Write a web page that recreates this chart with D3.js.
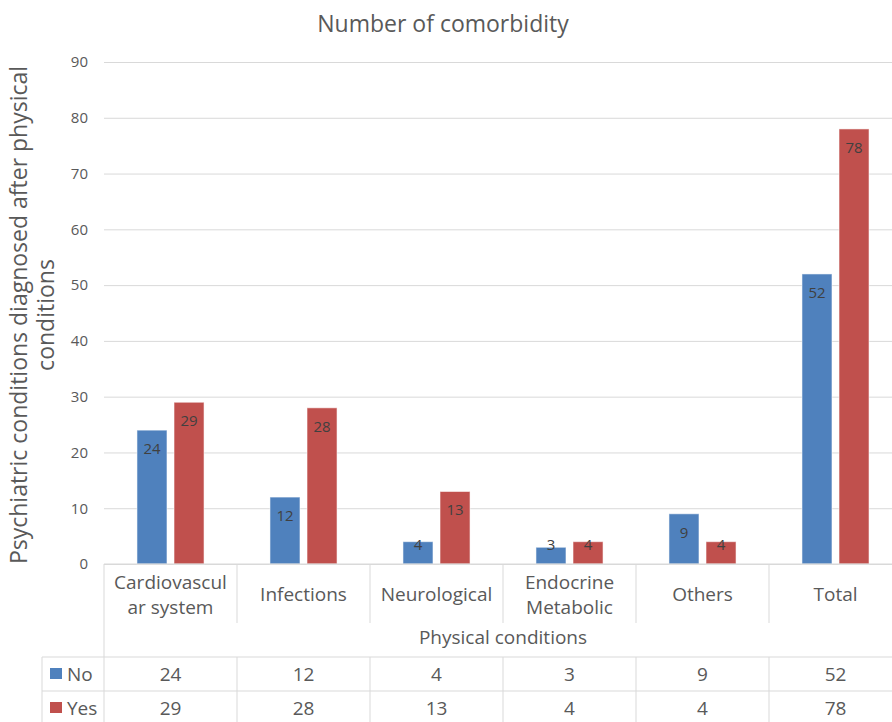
<!DOCTYPE html>
<html>
<head>
<meta charset="utf-8">
<script src="https://cdn.jsdelivr.net/npm/d3@7"></script>
<style>
  html, body { margin: 0; padding: 0; background: #fff; }
  svg { display: block; font-family: "Open Sans", "Noto Sans", sans-serif; }
</style>
</head>
<body>
<svg id="chart" width="892" height="722"></svg>
<script>
// Comorbidity counts by physical condition group
const categories = ["Cardiovascular system", "Infections", "Neurological", "Endocrine Metabolic", "Others", "Total"];
const categoryLines = [["Cardiovascul", "ar system"], ["Infections"], ["Neurological"], ["Endocrine", "Metabolic"], ["Others"], ["Total"]];
const seriesNames = ["No", "Yes"];
const noValues = [24, 12, 4, 3, 9, 52];
const yesValues = [29, 28, 13, 4, 4, 78];
const yTicks = [0, 10, 20, 30, 40, 50, 60, 70, 80, 90];
const colors = { No: "#4f81bd", Yes: "#c0504d" };

const seriesValues = { No: noValues, Yes: yesValues };

const svg = d3.select("#chart");
const W = 892, H = 722;
const textGrey = "#595959";
const lineGrey = "#d9d9d9";
const tableFont = 19;

const plotLeft = 104, plotRight = 902, plotTop = 62, plotBottom = 564;

const x0 = d3.scaleBand().domain(categories).range([plotLeft, plotRight]).padding(0);
const x1 = d3.scaleBand().domain(seriesNames).range([0, x0.bandwidth()])
  .paddingInner(0.19).paddingOuter(0.89);
const y = d3.scaleLinear().domain([0, 90]).range([plotBottom, plotTop]);

// Title
svg.append("text")
  .attr("x", 443).attr("y", 32)
  .attr("text-anchor", "middle")
  .attr("font-size", 23)
  .attr("fill", textGrey)
  .text("Number of comorbidity");

// Gridlines and y tick labels
const yAxis = d3.axisLeft(y).tickValues(yTicks).tickSize(-(W - plotLeft)).tickPadding(16);
const gy = svg.append("g").attr("transform", `translate(${plotLeft},0)`).call(yAxis);
gy.select(".domain").remove();
gy.selectAll(".tick line").attr("stroke", lineGrey).attr("stroke-width", 1);
gy.selectAll(".tick text").attr("fill", textGrey).attr("font-size", 15)
  .attr("font-family", "Open Sans, sans-serif");

// Y axis title (two lines)
const yTitle = svg.append("text")
  .attr("transform", `translate(0,315) rotate(-90)`)
  .attr("text-anchor", "middle")
  .attr("font-size", 23)
  .attr("fill", textGrey);
yTitle.append("tspan").attr("x", 0).attr("y", 27).text("Psychiatric conditions diagnosed after physical");
yTitle.append("tspan").attr("x", 0).attr("y", 54).text("conditions");

// Bars
const groups = svg.append("g").selectAll("g")
  .data(categories)
  .join("g")
  .attr("transform", d => `translate(${x0(d)},0)`);

const barData = (c, i) => seriesNames.map(s => ({ series: s, value: seriesValues[s][i] }));

groups.each(function (c, i) {
  const g = d3.select(this);
  const data = barData(c, i);
  g.selectAll("rect")
    .data(data)
    .join("rect")
    .attr("x", d => x1(d.series))
    .attr("y", d => y(d.value))
    .attr("width", x1.bandwidth())
    .attr("height", d => y(0) - y(d.value))
    .attr("fill", d => colors[d.series])
    .attr("stroke", "rgba(255,255,255,0.55)")
    .attr("stroke-width", 1);
  // value labels sit just inside the bar top; short bars keep them above the baseline
  g.selectAll("text.val")
    .data(data)
    .join("text")
    .attr("class", "val")
    .attr("x", d => x1(d.series) + x1.bandwidth() / 2)
    .attr("y", d => Math.min(y(d.value) + 24, plotBottom - 14))
    .attr("text-anchor", "middle")
    .attr("font-size", 15)
    .attr("fill", "#404040")
    .text(d => d.value);
});

// Baseline
svg.append("line")
  .attr("x1", plotLeft).attr("x2", W)
  .attr("y1", plotBottom).attr("y2", plotBottom)
  .attr("stroke", lineGrey);

// Data table below the plot
const headerBottom = 623, titleRowBottom = 657, rowNoBottom = 691, tableBottom = 722;
const legendLeft = 42;
const table = svg.append("g");

// Vertical category dividers in the header area
const bounds = categories.map(c => x0(c)).concat([plotRight]);
table.selectAll("line.hdiv")
  .data(bounds)
  .join("line")
  .attr("x1", d => d).attr("x2", d => d)
  .attr("y1", plotBottom).attr("y2", (d, i) => i === 0 ? titleRowBottom : headerBottom)
  .attr("stroke", lineGrey);

// Vertical dividers in the value rows
table.selectAll("line.rdiv")
  .data([legendLeft].concat(bounds))
  .join("line")
  .attr("x1", d => d).attr("x2", d => d)
  .attr("y1", titleRowBottom).attr("y2", tableBottom)
  .attr("stroke", lineGrey);

// Horizontal row lines
[titleRowBottom, rowNoBottom].forEach(yy => {
  table.append("line")
    .attr("x1", legendLeft).attr("x2", W)
    .attr("y1", yy).attr("y2", yy)
    .attr("stroke", lineGrey);
});

// Category labels
categories.forEach((c, i) => {
  const lines = categoryLines[i];
  const cx = x0(c) + x0.bandwidth() / 2;
  const t = table.append("text")
    .attr("text-anchor", "middle")
    .attr("font-size", tableFont)
    .attr("fill", textGrey);
  const lh = 25;
  const startY = 601 - (lines.length - 1) * lh / 2;
  lines.forEach((ln, k) => {
    t.append("tspan").attr("x", cx).attr("y", startY + k * lh).text(ln);
  });
});

// Axis title row
table.append("text")
  .attr("x", (plotLeft + plotRight) / 2).attr("y", 644)
  .attr("text-anchor", "middle")
  .attr("font-size", tableFont)
  .attr("fill", textGrey)
  .text("Physical conditions");

// Value rows with legend keys
const rowCenters = { No: 674, Yes: 708 };
seriesNames.forEach(s => {
  const cy = rowCenters[s];
  table.append("rect")
    .attr("x", 50).attr("y", cy - 6)
    .attr("width", 12).attr("height", 11)
    .attr("fill", colors[s]);
  table.append("text")
    .attr("x", 67).attr("y", cy + 7)
    .attr("font-size", tableFont)
    .attr("fill", textGrey)
    .text(s);
  categories.forEach((c, i) => {
    table.append("text")
      .attr("x", x0(c) + x0.bandwidth() / 2).attr("y", cy + 7)
      .attr("text-anchor", "middle")
      .attr("font-size", tableFont)
      .attr("fill", textGrey)
      .text(seriesValues[s][i]);
  });
});
</script>
</body>
</html>
